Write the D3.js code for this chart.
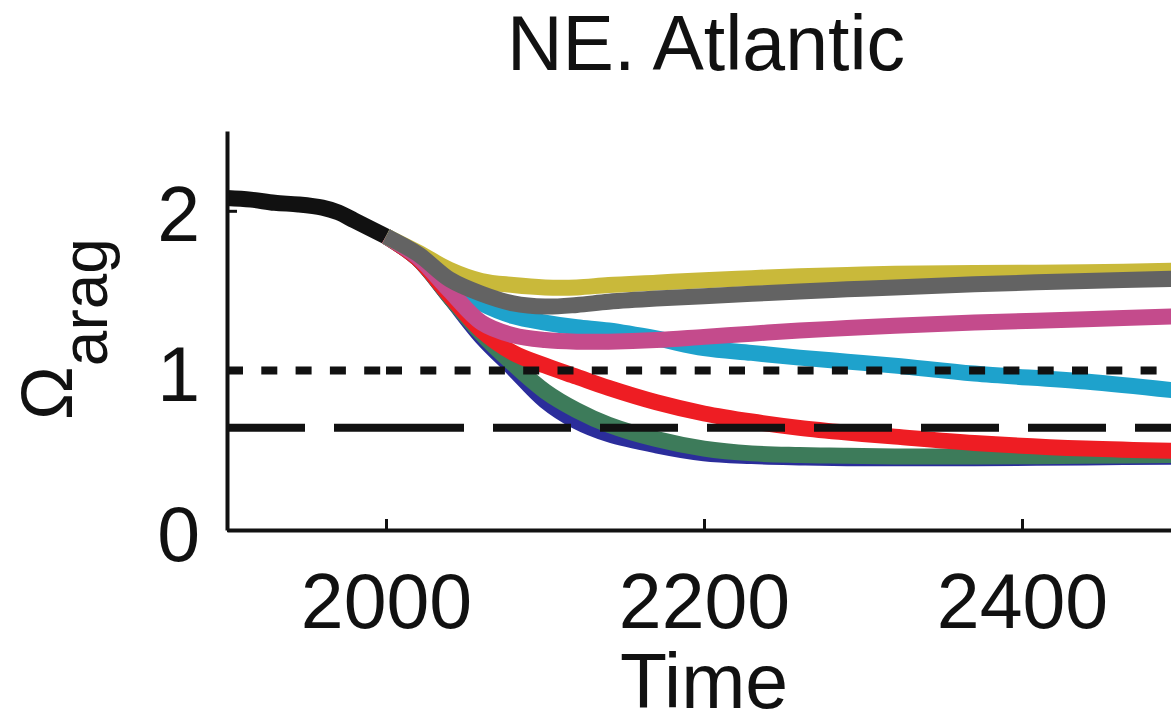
<!DOCTYPE html>
<html>
<head>
<meta charset="utf-8">
<script src="https://cdnjs.cloudflare.com/ajax/libs/d3/7.8.5/d3.min.js"></script>
<style>
  html, body { margin: 0; padding: 0; background: #fff; overflow: hidden; }
  svg text { font-family: "Liberation Sans", Arial, Helvetica, sans-serif; fill: #111; }
</style>
</head>
<body>
<svg id="svgmain" width="1171" height="723"></svg>
<script>
// historical run (black) 1900-2000
var histYears = [1900, 1915, 1930, 1945, 1960, 1970, 1980, 1990, 2000]
var histValues = [2.08, 2.07, 2.05, 2.04, 2.02, 1.99, 1.94, 1.89, 1.84]

// scenario runs 2000-2500
var years = [2000, 2020, 2040, 2060, 2080, 2100, 2120, 2140, 2170, 2200, 2230, 2260, 2290, 2320, 2370, 2440, 2500]
var blueValues   = [1.84, 1.70, 1.46, 1.21, 1.01, 0.81, 0.68, 0.60, 0.53, 0.48, 0.463, 0.455, 0.45, 0.45, 0.45, 0.455, 0.46]
var greenValues  = [1.84, 1.70, 1.46, 1.23, 1.04, 0.87, 0.75, 0.66, 0.57, 0.51, 0.48, 0.47, 0.465, 0.46, 0.46, 0.465, 0.47]
var redValues    = [1.84, 1.70, 1.47, 1.25, 1.11, 1.03, 0.96, 0.89, 0.80, 0.73, 0.68, 0.64, 0.61, 0.585, 0.545, 0.51, 0.495]
var cyanValues   = [1.84, 1.72, 1.54, 1.42, 1.34, 1.30, 1.27, 1.25, 1.20, 1.14, 1.11, 1.08, 1.055, 1.03, 0.98, 0.93, 0.87]
var pinkValues   = [1.84, 1.71, 1.50, 1.30, 1.22, 1.19, 1.18, 1.18, 1.19, 1.21, 1.23, 1.25, 1.265, 1.28, 1.30, 1.32, 1.34]
var yellowValues = [1.84, 1.74, 1.63, 1.56, 1.535, 1.52, 1.52, 1.535, 1.55, 1.565, 1.578, 1.59, 1.598, 1.605, 1.61, 1.615, 1.625]
var grayValues   = [1.84, 1.73, 1.57, 1.48, 1.42, 1.40, 1.41, 1.43, 1.45, 1.465, 1.48, 1.495, 1.508, 1.52, 1.54, 1.56, 1.575]

// saturation thresholds
var refLevels = [1, 0.64]
var refSplits = [[1900, 2000], [2000, 2500]]

var xTicks = [2000, 2200, 2400]
var yTicks = [0, 1, 2]

var font = 77

var svg = d3.select("#svgmain")
svg.append("rect").attr("width", 1171).attr("height", 723).attr("fill", "#fff")

var x = d3.scaleLinear().domain([1900, 2500]).range([227, 1181])
var y = d3.scaleLinear().domain([0, 2.5]).range([530, 131])

var line = d3.line()
    .x(function(d) { return x(d[0]) })
    .y(function(d) { return y(d[1]) })
    .curve(d3.curveCatmullRom.alpha(0.5))

function pairs(xs, vs) {
    return xs.map(function(v, i) { return [v, vs[i]] })
}

// drawing order matters: later lines sit on top
var series = [
    {values: histValues, xs: histYears, color: "#111111"},
    {values: blueValues, xs: years, color: "#2b2d9b"},
    {values: greenValues, xs: years, color: "#3d7b5a"},
    {values: redValues, xs: years, color: "#ee1d23"},
    {values: cyanValues, xs: years, color: "#1ea2cc"},
    {values: pinkValues, xs: years, color: "#c44b8c"},
    {values: yellowValues, xs: years, color: "#c9b93a"},
    {values: grayValues, xs: years, color: "#636363"}
]

var plot = svg.append("g").attr("class", "lines")
series.forEach(function(s) {
    plot.append("path")
        .attr("d", line(pairs(s.xs, s.values)))
        .attr("fill", "none")
        .attr("stroke", s.color)
        .attr("stroke-width", 16)
        .attr("stroke-linecap", "butt")
        .attr("stroke-linejoin", "round")
})

// threshold lines, drawn in two pieces like the original
var dashes = ["16,18.3", "78,29"]
refLevels.forEach(function(lev, i) {
    refSplits.forEach(function(span) {
        plot.append("line")
            .attr("x1", x(span[0])).attr("x2", x(span[1]))
            .attr("y1", y(lev)).attr("y2", y(lev))
            .attr("stroke", "#111")
            .attr("stroke-width", 8)
            .attr("stroke-dasharray", dashes[i])
    })
})

// axes
var xAxis = d3.axisBottom(x).tickValues(xTicks).tickFormat(d3.format("d"))
    .tickSizeInner(-11).tickSizeOuter(0).tickPadding(43)
var yAxis = d3.axisLeft(y).tickValues(yTicks).tickFormat(d3.format("d"))
    .tickSizeInner(-10).tickSizeOuter(0).tickPadding(27)

var gx = svg.append("g").attr("transform", "translate(0," + y(0) + ")").call(xAxis)
var gy = svg.append("g").attr("transform", "translate(" + x(1900) + ",0)").call(yAxis)

;[gx, gy].forEach(function(g) {
    g.attr("font-size", font).attr("font-family", null)
    g.select(".domain").attr("stroke", "#111").attr("stroke-width", 4)
    g.selectAll(".tick line").attr("stroke", "#111").attr("stroke-width", 3)
    g.selectAll(".tick text").attr("fill", "#111")
})
gy.selectAll(".tick text").attr("dy", "0.39em")

// titles
svg.append("text")
    .attr("x", 706).attr("y", 70)
    .attr("text-anchor", "middle")
    .attr("font-size", font)
    .text("NE. Atlantic")

svg.append("text")
    .attr("x", (x.range()[0] + x.range()[1]) / 2).attr("y", 708)
    .attr("text-anchor", "middle")
    .attr("font-size", font)
    .text("Time")

var ylab = svg.append("text")
    .attr("transform", "translate(72,420) rotate(-90)")
    .attr("font-size", 72)
ylab.append("tspan").text("\u03A9")
ylab.append("tspan").attr("dy", 35).attr("font-size", 64).text("arag")
</script>
</body>
</html>
